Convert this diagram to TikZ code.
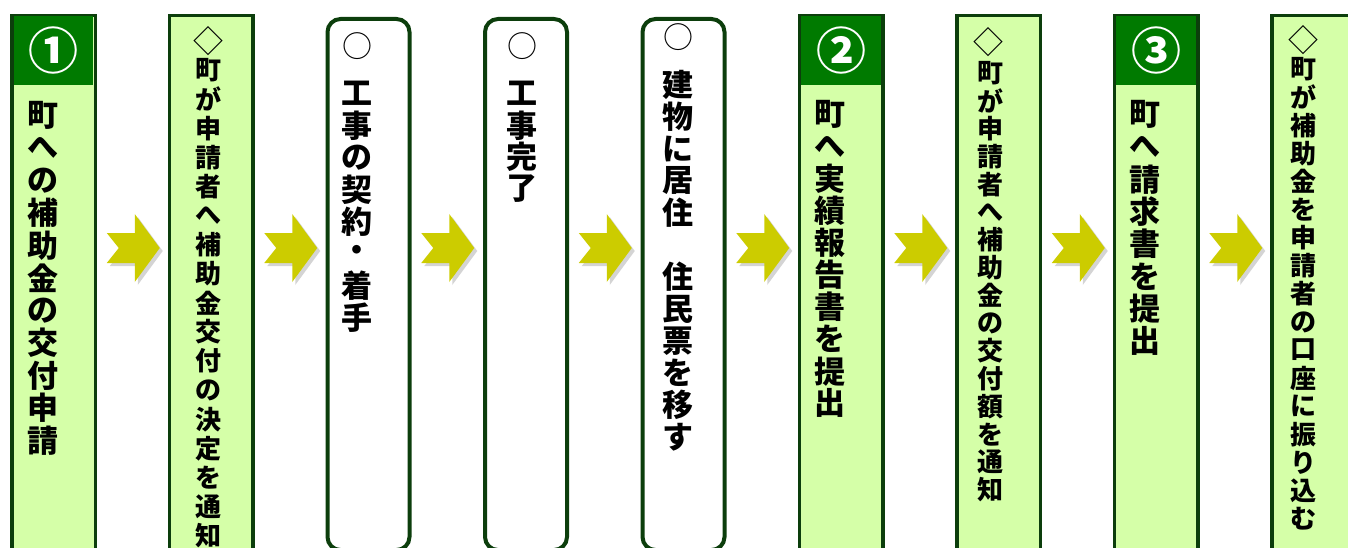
\documentclass[tikz,border=0pt]{standalone}
\usepackage{fontspec}
\usepackage{tikz}
\newfontfamily\jpfont{Noto Sans CJK JP}
\definecolor{boxline}{RGB}{12,62,12}
\definecolor{boxfill}{RGB}{213,255,168}
\definecolor{headfill}{RGB}{0,122,0}
\definecolor{arrowfill}{RGB}{204,204,0}
\definecolor{arrowshade}{RGB}{212,212,212}

\tikzset{pics/steparrow/.style={code={
    \fill[arrowshade,shift={(3,3)}] (0,-15) -- (12,0) -- (0,15) -- (28,15) -- (28,34) -- (53,0) -- (28,-34) -- (28,-15) -- cycle;
    \fill[arrowfill] (0,-15) -- (12,0) -- (0,15) -- (28,15) -- (28,34) -- (53,0) -- (28,-34) -- (28,-15) -- cycle;
}}}

\begin{document}
\begin{tikzpicture}[x=1pt,y=-1pt,
    stepbox/.style={draw=boxline,line width=3.5pt,fill=boxfill,minimum width=83.5pt,minimum height=620pt,anchor=north,inner sep=0pt},
    roundbox/.style={draw=boxline,line width=4pt,fill=white,rounded corners=13pt,minimum width=82pt,minimum height=531pt,anchor=north,inner sep=0pt},
    headbox/.style={fill=headfill,minimum width=79.75pt,minimum height=69.5pt,anchor=north,inner sep=0pt,text=white,font=\jpfont\bfseries\fontsize{50}{50}\selectfont},
    bigtxt/.style={inner sep=0pt,font=\jpfont\bfseries\fontsize{31}{31}\selectfont},
    smalltxt/.style={inner sep=0pt,font=\jpfont\bfseries\fontsize{26}{26}\selectfont},
    marktxt/.style={inner sep=0pt,font=\jpfont\fontsize{30}{30}\selectfont},
    diamtxt/.style={inner sep=0pt,font=\jpfont\fontsize{30}{30}\selectfont}]
        \useasboundingbox (0,0) rectangle (1348,548);
        \clip (0,0) rectangle (1348,548);
        % columns
        \node[stepbox] (c1) at (53.5,13.75) {};
        \node[headbox] (h1) at ([yshift=-1.75pt]c1.north) {①};
        \node[stepbox] (c2) at (211,13.75) {};
        \node[roundbox] (c3) at (368.5,17) {};
        \node[roundbox] (c4) at (526,17) {};
        \node[roundbox] (c5) at (683.5,17) {};
        \node[stepbox] (c6) at (841,13.75) {};
        \node[headbox] (h6) at ([yshift=-1.75pt]c6.north) {②};
        \node[stepbox] (c7) at (998.5,13.75) {};
        \node[stepbox] (c8) at (1156,13.75) {};
        \node[headbox] (h8) at ([yshift=-1.75pt]c8.north) {③};
        \node[stepbox] (c9) at (1313.5,13.75) {};
        % arrows between columns
        \foreach \i in {1,...,8}
            \path (c\i.east |- 0,248) ++(9.75,0) pic {steparrow};
        % texts
        \foreach \ch [count=\k from 0] in {町,へ,の,補,助,金,の,交,付,申,請}
            \node[bigtxt] (t1-\k) at (43,115.5+32.5*\k) {\ch};
        \node[diamtxt] (m2) at (208,41.5) {◇};
        \foreach \ch [count=\k from 0] in {町,が,申,請,者,へ,補,助,金,交,付,の,決,定,を,通,知}
            \node[smalltxt] (t2-\k) at (208,70+29.1*\k) {\ch};
        \node[marktxt] (m3) at (357,46) {○};
        \foreach \ch [count=\k from 0] in {工,事,の,契,約,・,着,手}
            \node[bigtxt] (t3-\k) at (357,93.5+32*\k) {\ch};
        \node[marktxt] (m4) at (522,46) {○};
        \foreach \ch [count=\k from 0] in {工,事,完,了}
            \node[bigtxt] (t4-\k) at (522,93.5+31.8*\k) {\ch};
        \node[marktxt] (m5) at (678,37.5) {○};
        \foreach \ch [count=\k from 0] in {建,物,に,居,住,　,住,民,票,を,移,す}
            \node[bigtxt] (t5-\k) at (678,85+32*\k) {\ch};
        \foreach \ch [count=\k from 0] in {町,へ,実,績,報,告,書,を,提,出}
            \node[bigtxt] (t6-\k) at (830,114.5+32.1*\k) {\ch};
        \node[diamtxt] (m7) at (988,42.5) {◇};
        \foreach \ch [count=\k from 0] in {町,が,申,請,者,へ,補,助,金,の,交,付,額,を,通,知}
            \node[smalltxt] (t7-\k) at (990,73+27.8*\k) {\ch};
        \foreach \ch [count=\k from 0] in {町,へ,請,求,書,を,提,出}
            \node[bigtxt] (t8-\k) at (1145,114.5+32.4*\k) {\ch};
        \node[diamtxt] (m9) at (1303,40.5) {◇};
        \foreach \ch [count=\k from 0] in {町,が,補,助,金,を,申,請,者,の,口,座,に,振,り,込,む}
            \node[smalltxt] (t9-\k) at (1303,69+28.1*\k) {\ch};
    \end{tikzpicture}
\end{document}
